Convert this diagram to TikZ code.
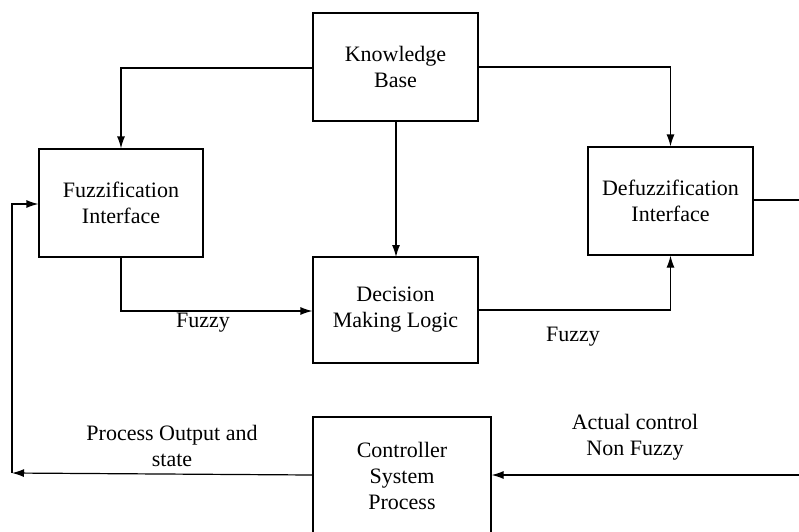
\documentclass[tikz,border=0pt]{standalone}
\usepackage{fontspec}
\setmainfont{Liberation Serif}
\usetikzlibrary{arrows.meta}
\begin{document}
\begin{tikzpicture}[x=1pt,y=-1pt,
  box/.style={draw, line width=1.2pt, rectangle, align=center, inner sep=0pt,
    font=\fontsize{22}{26}\selectfont},
  lbl/.style={align=center, inner sep=0pt, font=\fontsize{22}{26}\selectfont},
  conn/.style={line width=1.2pt},
  arr/.style={conn, -{Latex[length=12pt,width=8pt]}}]
\useasboundingbox (0,0) rectangle (799,531);
\node[box, minimum width=165pt, minimum height=108pt] (kb) at (395.5,67) {Knowledge\\Base};
\node[box, minimum width=164pt, minimum height=108pt] (fuzz) at (121,203) {Fuzzification\\Interface};
\node[box, minimum width=165pt, minimum height=108pt] (defuzz) at (670.5,201) {Defuzzification\\Interface};
\node[box, minimum width=165pt, minimum height=106pt] (dml) at (395.5,310) {Decision\\Making Logic};
\node[box, minimum width=178pt, minimum height=118pt] (ctrl) at (402,476) {Controller\\System\\Process};
\coordinate (outR) at (801,200);
\coordinate (inR) at (801,475);
\coordinate (fbL) at (12,473);
% knowledge base links
\draw[arr] (kb.west |- 0,68) -| (fuzz.north);
\draw[arr] (kb.east |- 0,67) -| (defuzz.north);
\draw[arr] (396,121) -- (396,257);
% fuzz -> dml
\draw[arr] (fuzz.south) |- (dml.west |- 0,311);
\node[lbl] (f1) at (203,323) {Fuzzy};
% dml -> defuzz
\draw[arr] (dml.east |- 0,310) -| (defuzz.south);
\node[lbl] (f2) at (573,337) {Fuzzy};
% defuzz output
\draw[conn] (defuzz.east |- 0,200) -- (outR);
% actual control in
\draw[arr] (inR) -- (ctrl.east |- 0,475);
\node[lbl] (ac) at (635,437) {Actual control\\Non Fuzzy};
% feedback
\draw[arr] (ctrl.west |- 0,475) -- (fbL);
\draw[arr] (fbL) |- (fuzz.west |- 0,204);
\node[lbl] (po) at (172,446) {Process Output and\\state};
\end{tikzpicture}
\end{document}
